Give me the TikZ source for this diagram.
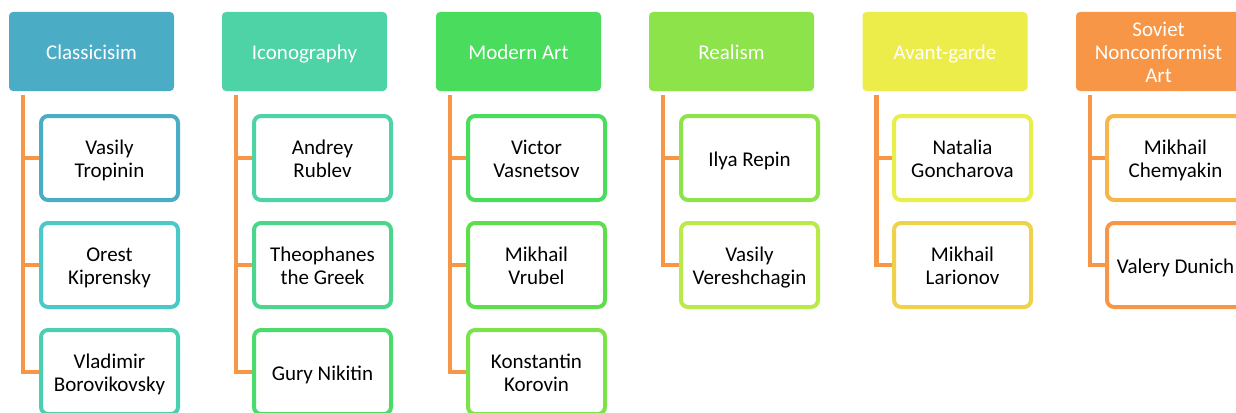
\documentclass[tikz,border=0pt]{standalone}
\usepackage{fontspec}
\setmainfont{Carlito}
\newcommand{\topstrut}{\rule[-6.8pt]{0pt}{29.7pt}}
\definecolor{conn}{HTML}{F79646}
\definecolor{cA}{HTML}{4BACC6}
\definecolor{cA2}{HTML}{4BC8C8}
\definecolor{cA3}{HTML}{4BCFB0}
\definecolor{cB}{HTML}{4DD3A5}
\definecolor{cB2}{HTML}{4CD68D}
\definecolor{cB3}{HTML}{4ADB6A}
\definecolor{cC}{HTML}{4ADC5C}
\definecolor{cC2}{HTML}{5EDE4C}
\definecolor{cC3}{HTML}{7BE24A}
\definecolor{cD}{HTML}{8DE34A}
\definecolor{cD2}{HTML}{BAE94A}
\definecolor{cE}{HTML}{ECEC4A}
\definecolor{cE2}{HTML}{E8EF4A}
\definecolor{cE3}{HTML}{F0D24A}
\definecolor{cF}{HTML}{F79646}
\definecolor{cF2}{HTML}{F5B64A}
\tikzset{
  txt/.style={align=center, inner sep=0pt, font=\fontsize{21}{22.7}\selectfont,
    execute at begin node=\topstrut, execute at end node=\strut},
  hdr/.style={txt, fill=#1, draw=none, rounded corners=4pt, minimum width=165pt, minimum height=79pt,
    text=white},
  person/.style={txt, draw=#1, fill=white, line width=4pt, rounded corners=7pt, minimum width=137pt,
    minimum height=84pt, text=black},
  link/.style={draw=conn, line width=4.5pt}
}
\begin{document}
\begin{tikzpicture}[x=1pt,y=-1pt]
\useasboundingbox (0,0) rectangle (1236,412);
\clip (0,0) rectangle (1236,412);
% Column 1
\node[hdr=cA] (h1) at (91.5,51.5) {Classicisim};
\node[person=cA] (p11) at (109.5,158) {\topstrut Vasily\\Tropinin\strut};
\node[person=cA2] (p12) at (109.5,265) {\topstrut Orest\\Kiprensky\strut};
\node[person=cA3] (p13) at (109.5,372) {\topstrut Vladimir\\Borovikovsky\strut};
\coordinate (t1) at (23,95);
% Column 2
\node[hdr=cB] (h2) at (304.5,51.5) {Iconography};
\node[person=cB] (p21) at (322.5,158) {\topstrut Andrey\\Rublev\strut};
\node[person=cB2] (p22) at (322.5,265) {\topstrut Theophanes\\the Greek\strut};
\node[person=cB3] (p23) at (322.5,372) {Gury Nikitin};
\coordinate (t2) at (236,95);
% Column 3
\node[hdr=cC] (h3) at (518.5,51.5) {Modern Art};
\node[person=cC] (p31) at (536.5,158) {\topstrut Victor\\Vasnetsov\strut};
\node[person=cC2] (p32) at (536.5,265) {\topstrut Mikhail\\Vrubel\strut};
\node[person=cC3] (p33) at (536.5,372) {\topstrut Konstantin\\Korovin\strut};
\coordinate (t3) at (450,95);
% Column 4
\node[hdr=cD] (h4) at (731.5,51.5) {Realism};
\node[person=cD] (p41) at (749.5,158) {Ilya Repin};
\node[person=cD2] (p42) at (749.5,265) {\topstrut Vasily\\Vereshchagin\strut};
\coordinate (t4) at (663,95);
% Column 5
\node[hdr=cE] (h5) at (945,51.5) {Avant-garde};
\node[person=cE2] (p51) at (962.5,158) {\topstrut Natalia\\Goncharova\strut};
\node[person=cE3] (p52) at (962.5,265) {\topstrut Mikhail\\Larionov\strut};
\coordinate (t5) at (876.5,95);
% Column 6
\node[hdr=cF] (h6) at (1158.5,51.5) {\topstrut Soviet\\Nonconformist\\Art\strut};
\node[person=cF2] (p61) at (1175.5,158) {\topstrut Mikhail\\Chemyakin\strut};
\node[person=cF] (p62) at (1175.5,265) {Valery Dunich};
\coordinate (t6) at (1090,95);
% Connectors
\draw[link] (t1) |- (p13.west);
\draw[link] (t1) |- (p12.west);
\draw[link] (t1) |- (p11.west);
\draw[link] (t2) |- (p23.west);
\draw[link] (t2) |- (p22.west);
\draw[link] (t2) |- (p21.west);
\draw[link] (t3) |- (p33.west);
\draw[link] (t3) |- (p32.west);
\draw[link] (t3) |- (p31.west);
\draw[link] (t4) |- (p42.west);
\draw[link] (t4) |- (p41.west);
\draw[link] (t5) |- (p52.west);
\draw[link] (t5) |- (p51.west);
\draw[link] (t6) |- (p62.west);
\draw[link] (t6) |- (p61.west);
\end{tikzpicture}
\end{document}
